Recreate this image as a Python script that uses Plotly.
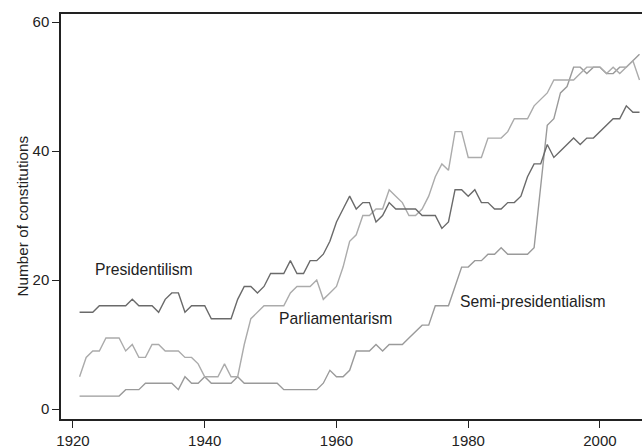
import plotly.graph_objects as go

years = list(range(1921, 2007))

presidentialism = [15, 15, 15, 16, 16, 16, 16, 16, 17, 16,
                   16, 16, 15, 17, 18, 18, 15, 16, 16, 16,
                   14, 14, 14, 14, 17, 19, 19, 18, 19, 21,
                   21, 21, 23, 21, 21, 23, 23, 24, 26, 29,
                   31, 33, 31, 32, 32, 29, 30, 32, 31, 31,
                   31, 31, 30, 30, 30, 28, 29, 34, 34, 33,
                   34, 32, 32, 31, 31, 32, 32, 33, 36, 38,
                   38, 41, 39, 40, 41, 42, 41, 42, 42, 43,
                   44, 45, 45, 47, 46, 46]

parliamentarism = [5, 8, 9, 9, 11, 11, 11, 9, 10, 8,
                   8, 10, 10, 9, 9, 9, 8, 8, 7, 5,
                   5, 5, 7, 5, 5, 10, 14, 15, 16, 16,
                   16, 16, 18, 19, 19, 19, 20, 17, 18, 19,
                   22, 26, 27, 30, 30, 31, 31, 34, 33, 32,
                   30, 30, 31, 33, 36, 38, 37, 43, 43, 39,
                   39, 39, 42, 42, 42, 43, 45, 45, 45, 47,
                   48, 49, 51, 51, 51, 51, 52, 53, 53, 53,
                   52, 53, 52, 53, 54, 51]

semi_presidentialism = [2, 2, 2, 2, 2, 2, 2, 3, 3, 3,
                        4, 4, 4, 4, 4, 3, 5, 4, 4, 5,
                        4, 4, 4, 4, 5, 4, 4, 4, 4, 4,
                        4, 3, 3, 3, 3, 3, 3, 4, 6, 5,
                        5, 6, 9, 9, 9, 10, 9, 10, 10, 10,
                        11, 12, 13, 13, 16, 16, 16, 19, 22, 22,
                        23, 23, 24, 24, 25, 24, 24, 24, 24, 25,
                        34, 44, 45, 49, 50, 53, 53, 52, 53, 53,
                        52, 52, 53, 53, 54, 55]

x_ticks = [1920, 1940, 1960, 1980, 2000]
y_ticks = [0, 20, 40, 60]

FONT = "Liberation Sans, Arial, Helvetica, sans-serif"

fig = go.Figure()
fig.add_trace(go.Scatter(x=years, y=semi_presidentialism, mode="lines",
                         line=dict(color="#9a9a9a", width=1.4), name="Semi-presidentialism"))
fig.add_trace(go.Scatter(x=years, y=parliamentarism, mode="lines",
                         line=dict(color="#ababab", width=1.4), name="Parliamentarism"))
fig.add_trace(go.Scatter(x=years, y=presidentialism, mode="lines",
                         line=dict(color="#6a6a6a", width=1.4), name="Presidentilism"))

ann_font = dict(family=FONT, size=15.7, color="#222222")
fig.add_annotation(x=1923.1, y=21.7, text="Presidentilism", showarrow=False,
                   xanchor="left", yanchor="middle", font=ann_font)
fig.add_annotation(x=1950.9, y=14.0, text="Parliamentarism", showarrow=False,
                   xanchor="left", yanchor="middle", font=ann_font)
fig.add_annotation(x=1978.5, y=16.7, text="Semi-presidentialism", showarrow=False,
                   xanchor="left", yanchor="middle", font=ann_font)
fig.add_annotation(xref="paper", yref="paper", x=0, y=0.5, xshift=-39,
                   text="Number of constitutions", textangle=-90, showarrow=False,
                   xanchor="center", yanchor="middle",
                   font=dict(family=FONT, size=15.3, color="#222222"))

fig.update_layout(
    width=642, height=448,
    margin=dict(l=61, r=0, t=14, b=29),
    paper_bgcolor="white", plot_bgcolor="white",
    showlegend=False,
    hovermode=False,
    font=dict(family=FONT, size=15, color="#222222"),
)
fig.update_xaxes(range=[1918.18, 2006.38], tickvals=x_ticks, ticktext=[str(v) for v in x_ticks],
                 showgrid=False, zeroline=False, showline=True, linecolor="#222222",
                 linewidth=1.5, mirror=True, ticks="outside", ticklen=7, tickwidth=1.2,
                 tickcolor="#222222", tickfont=dict(family=FONT, size=15, color="#222222"))
fig.update_yaxes(range=[-1.55, 61.24], tickvals=y_ticks, ticktext=[str(v) for v in y_ticks],
                 showgrid=False, zeroline=False, showline=True, linecolor="#222222",
                 linewidth=1.5, mirror=False, ticks="outside", ticklen=7, tickwidth=1.2,
                 tickcolor="#222222", tickfont=dict(family=FONT, size=15, color="#222222"))

fig.write_html("out.html", config={"displayModeBar": False},
               post_script="document.body.style.margin='0';document.body.style.overflow='hidden';")
